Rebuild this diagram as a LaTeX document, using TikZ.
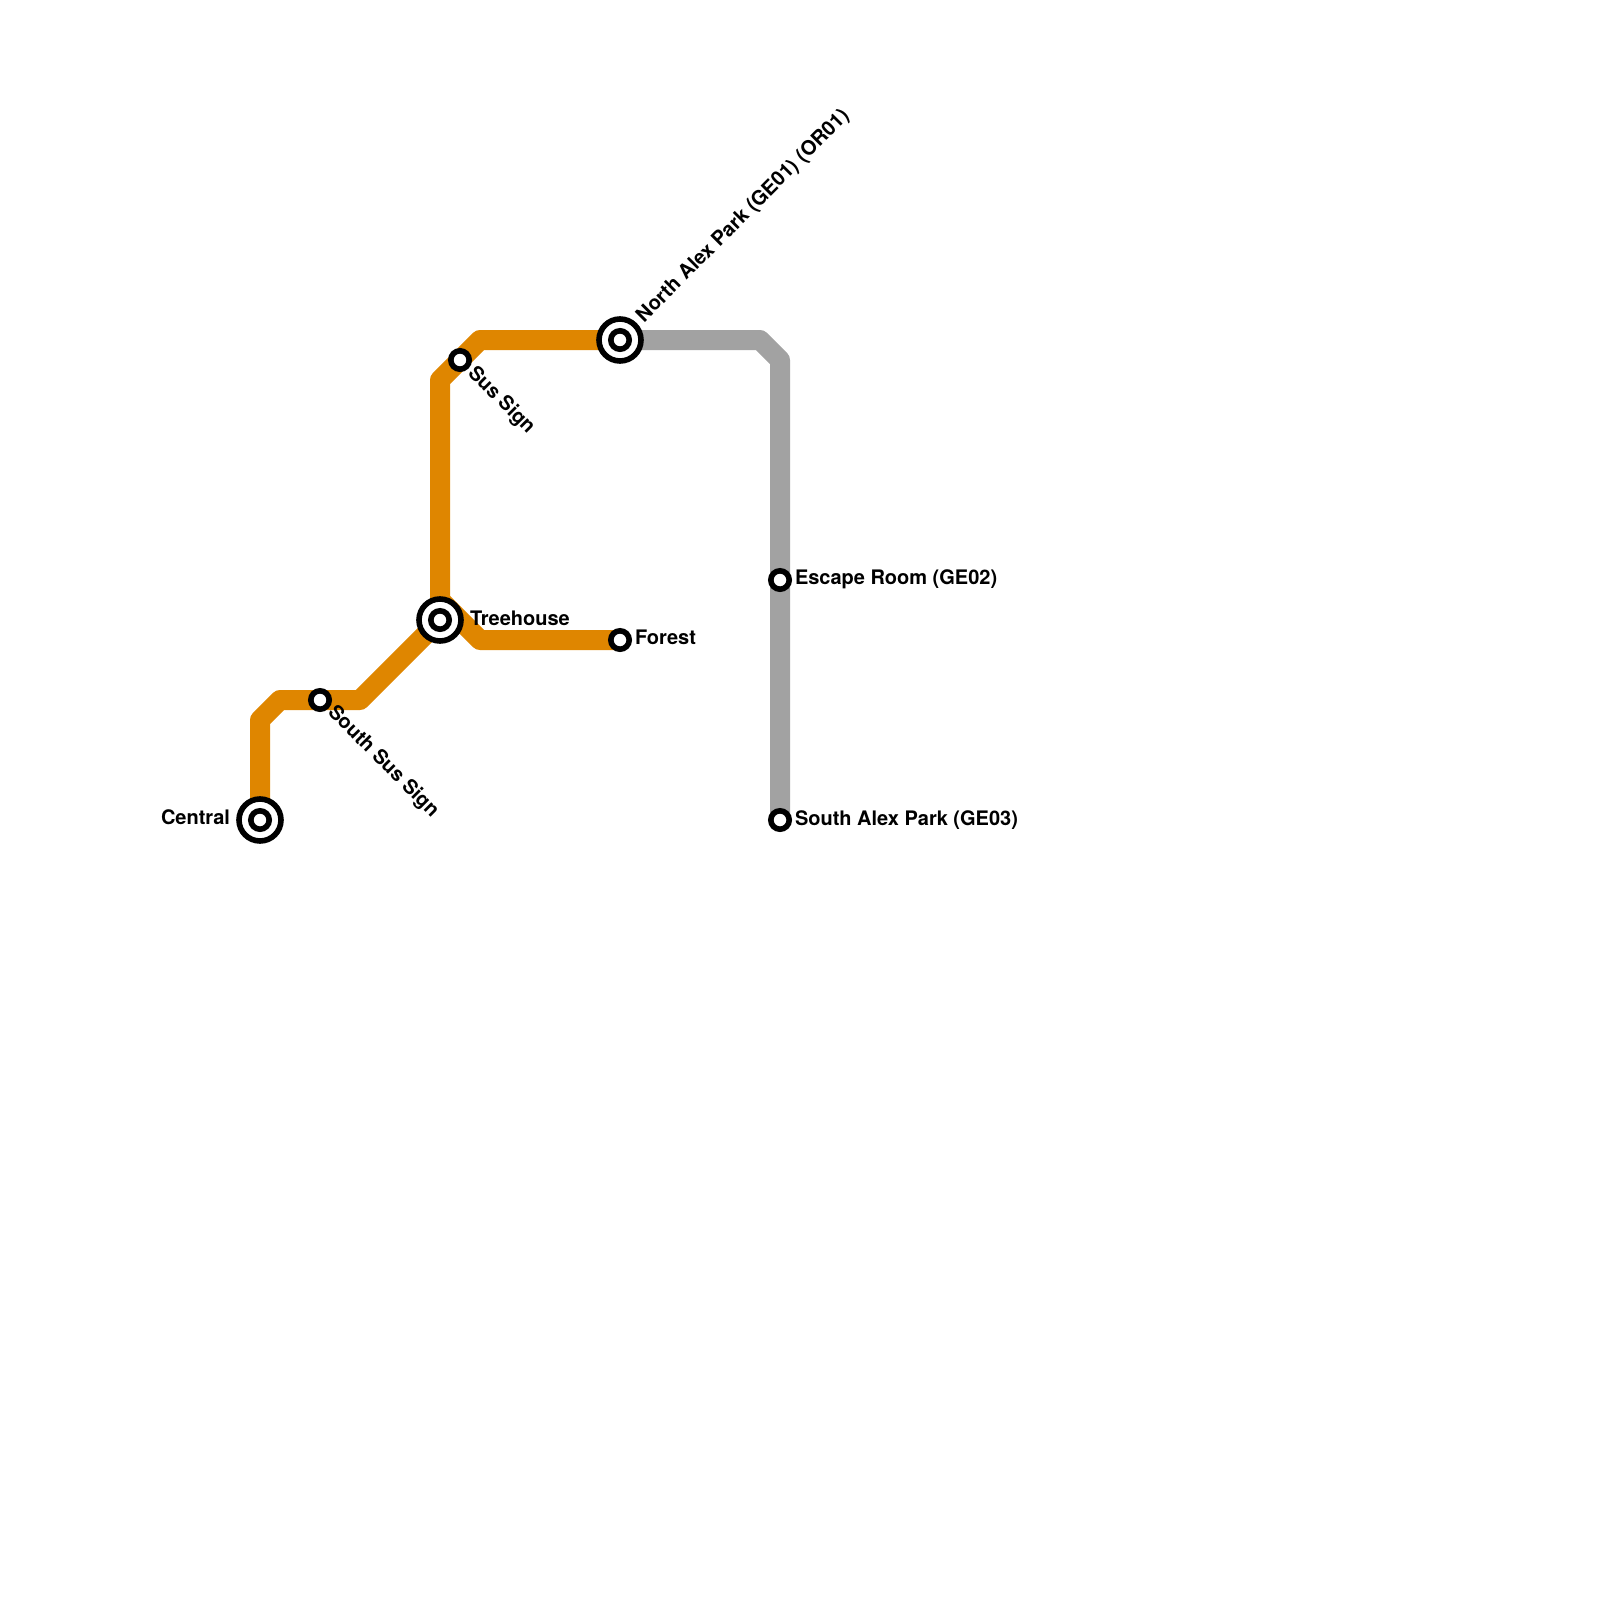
\documentclass[tikz,border=0pt]{standalone}
\usepackage{fontspec}
\setmainfont{TeX Gyre Heros}
\usetikzlibrary{backgrounds}
\definecolor{orangeline}{HTML}{DF8600}
\definecolor{greyline}{HTML}{A2A2A2}
\tikzset{
  x=1pt,y=-1pt,
  hub/.style={circle,draw=black,fill=white,line width=5.6pt,inner sep=0pt,outer sep=0pt,minimum size=42pt,
    path picture={\draw[black,line width=5.6pt,fill=white] (path picture bounding box.center) circle (9.2pt);}},
  halt/.style={circle,draw=black,fill=white,line width=5.6pt,inner sep=0pt,outer sep=0pt,minimum size=18.4pt},
  route/.style={line width=20pt,line join=round,line cap=butt},
  stationlabel/.style={font=\bfseries\fontsize{20}{24}\selectfont,inner sep=0pt,outer sep=0pt,text=black}
}
\begin{document}
\begin{tikzpicture}
\useasboundingbox (0,0) rectangle (1600,1600);
\node[hub] (central) at (260,820) {};
\node[hub] (treehouse) at (440,620) {};
\node[hub] (northalex) at (620,340) {};
\node[halt] (southsus) at (320,700) {};
\node[halt] (sussign) at (460,360) {};
\node[halt] (forest) at (620,640) {};
\node[halt] (escape) at (780,580) {};
\node[halt] (southalex) at (780,820) {};
\begin{scope}[on background layer]
\draw[route,orangeline] (central.center) -- (260,720) -- (280,700) -- (southsus.center) -- (360,700) -- (treehouse.center) -- (440,380) -- (sussign.center) -- (480,340) -- (northalex.center);
\draw[route,orangeline] (treehouse.center) -- (440,600) -- (480,640) -- (forest.center);
\draw[route,greyline] (northalex.center) -- (760,340) -- (780,360) -- (escape.center) -- (southalex.center);
\end{scope}
\node[stationlabel,anchor=base east] (lcentral) at (230,824.5) {Central};
\node[stationlabel,anchor=base west] (ltree) at (470,625) {Treehouse};
\node[stationlabel,anchor=base west] (lforest) at (635,644.3) {Forest};
\node[stationlabel,anchor=base west] (lescape) at (795,584.3) {Escape Room (GE02)};
\node[stationlabel,anchor=base west] (lsouthalex) at (795,825) {South Alex Park (GE03)};
\node[stationlabel,anchor=base west,rotate=45] (lnorth) at (644,323) {North Alex Park (GE01) (OR01)};
\node[stationlabel,anchor=base west,rotate=-45] (lsus) at (467,374) {Sus Sign};
\node[stationlabel,anchor=base west,rotate=-45] (lsouthsus) at (327,713.5) {South Sus Sign};
\end{tikzpicture}
\end{document}
